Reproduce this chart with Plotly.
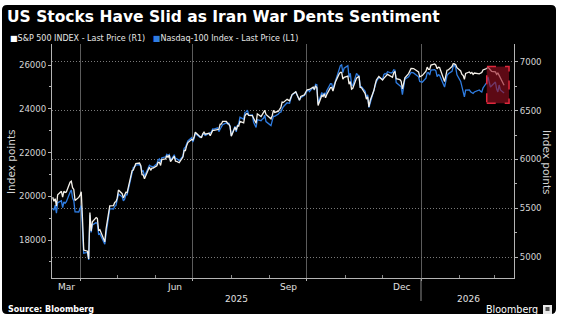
import plotly.graph_objects as go

# ---- data: daily closes, S&P 500 (right axis) and Nasdaq-100 (left axis) ----
dates = [
    # Mar 2025
    "2025-03-10", "2025-03-11", "2025-03-12", "2025-03-13", "2025-03-14", "2025-03-17", "2025-03-18",
    "2025-03-19", "2025-03-20", "2025-03-21", "2025-03-24", "2025-03-25", "2025-03-26", "2025-03-27",
    "2025-03-28", "2025-03-31",
    # Apr 2025
    "2025-04-01", "2025-04-02", "2025-04-03", "2025-04-04", "2025-04-07", "2025-04-08", "2025-04-09",
    "2025-04-10", "2025-04-11", "2025-04-14", "2025-04-15", "2025-04-16", "2025-04-17", "2025-04-21",
    "2025-04-22", "2025-04-23", "2025-04-24", "2025-04-25", "2025-04-28", "2025-04-29", "2025-04-30",
    # May 2025
    "2025-05-01", "2025-05-02", "2025-05-05", "2025-05-06", "2025-05-07", "2025-05-08", "2025-05-09",
    "2025-05-12", "2025-05-13", "2025-05-14", "2025-05-15", "2025-05-16", "2025-05-19", "2025-05-20",
    "2025-05-21", "2025-05-22", "2025-05-23", "2025-05-27", "2025-05-28", "2025-05-29", "2025-05-30",
    # Jun 2025
    "2025-06-02", "2025-06-03", "2025-06-04", "2025-06-05", "2025-06-06", "2025-06-09", "2025-06-10",
    "2025-06-11", "2025-06-12", "2025-06-13", "2025-06-16", "2025-06-17", "2025-06-18", "2025-06-20",
    "2025-06-23", "2025-06-24", "2025-06-25", "2025-06-26", "2025-06-27", "2025-06-30",
    # Jul 2025
    "2025-07-01", "2025-07-02", "2025-07-03", "2025-07-07", "2025-07-08", "2025-07-09", "2025-07-10",
    "2025-07-11", "2025-07-14", "2025-07-15", "2025-07-16", "2025-07-17", "2025-07-18", "2025-07-21",
    "2025-07-22", "2025-07-23", "2025-07-24", "2025-07-25", "2025-07-28", "2025-07-29", "2025-07-30",
    "2025-07-31",
    # Aug 2025
    "2025-08-01", "2025-08-04", "2025-08-05", "2025-08-06", "2025-08-07", "2025-08-08", "2025-08-11",
    "2025-08-12", "2025-08-13", "2025-08-14", "2025-08-15", "2025-08-18", "2025-08-19", "2025-08-20",
    "2025-08-21", "2025-08-22", "2025-08-25", "2025-08-26", "2025-08-27", "2025-08-28", "2025-08-29",
    # Sep 2025
    "2025-09-02", "2025-09-03", "2025-09-04", "2025-09-05", "2025-09-08", "2025-09-09", "2025-09-10",
    "2025-09-11", "2025-09-12", "2025-09-15", "2025-09-16", "2025-09-17", "2025-09-18", "2025-09-19",
    "2025-09-22", "2025-09-23", "2025-09-24", "2025-09-25", "2025-09-26", "2025-09-29", "2025-09-30",
    # Oct 2025
    "2025-10-01", "2025-10-02", "2025-10-03", "2025-10-06", "2025-10-07", "2025-10-08", "2025-10-09",
    "2025-10-10", "2025-10-13", "2025-10-14", "2025-10-15", "2025-10-16", "2025-10-17", "2025-10-20",
    "2025-10-21", "2025-10-22", "2025-10-23", "2025-10-24", "2025-10-27", "2025-10-28", "2025-10-29",
    "2025-10-30", "2025-10-31",
    # Nov 2025
    "2025-11-03", "2025-11-04", "2025-11-05", "2025-11-06", "2025-11-07", "2025-11-10", "2025-11-11",
    "2025-11-12", "2025-11-13", "2025-11-14", "2025-11-17", "2025-11-18", "2025-11-19", "2025-11-20",
    "2025-11-21", "2025-11-24", "2025-11-25", "2025-11-26", "2025-11-28",
    # Dec 2025
    "2025-12-01", "2025-12-02", "2025-12-03", "2025-12-04", "2025-12-05", "2025-12-08", "2025-12-09",
    "2025-12-10", "2025-12-11", "2025-12-12", "2025-12-15", "2025-12-16", "2025-12-17", "2025-12-18",
    "2025-12-19", "2025-12-22", "2025-12-23", "2025-12-24", "2025-12-26", "2025-12-29", "2025-12-30",
    "2025-12-31",
    # Jan 2026
    "2026-01-02", "2026-01-05", "2026-01-06", "2026-01-07", "2026-01-08", "2026-01-09", "2026-01-12",
    "2026-01-13", "2026-01-14", "2026-01-15", "2026-01-16", "2026-01-20", "2026-01-21", "2026-01-22",
    "2026-01-23", "2026-01-26", "2026-01-27", "2026-01-28", "2026-01-29", "2026-01-30",
    # Feb 2026
    "2026-02-02", "2026-02-03", "2026-02-04", "2026-02-05", "2026-02-06", "2026-02-09", "2026-02-10",
    "2026-02-11", "2026-02-12", "2026-02-13", "2026-02-17", "2026-02-18", "2026-02-19", "2026-02-20",
    "2026-02-23", "2026-02-24", "2026-02-25", "2026-02-26", "2026-02-27",
    # Mar 2026
    "2026-03-02", "2026-03-03", "2026-03-04", "2026-03-05", "2026-03-06", "2026-03-09",
]

spx = [
    5614, 5572, 5599, 5522, 5639, 5675, 5615, 5675, 5663, 5668, 5767, 5777, 5712, 5693, 5581, 5612,
    5633, 5671, 5397, 5074, 5062, 4983, 5457, 5268, 5363, 5406, 5397, 5276, 5283, 5158, 5288, 5376,
    5485, 5525, 5529, 5561, 5569,
    5604, 5687, 5650, 5607, 5631, 5664, 5660, 5844, 5886, 5892, 5917, 5958, 5964, 5940, 5845, 5842,
    5802, 5922, 5889, 5912, 5912,
    5936, 5970, 5971, 5939, 6000, 6006, 6039, 6022, 6045, 5977, 6033, 5982, 5981, 5967, 6025, 6092,
    6092, 6141, 6173, 6205,
    6198, 6227, 6279, 6230, 6226, 6263, 6280, 6259, 6269, 6244, 6264, 6297, 6297, 6306, 6309, 6359,
    6363, 6389, 6390, 6371, 6362, 6339,
    6238, 6330, 6299, 6345, 6340, 6389, 6374, 6446, 6466, 6469, 6450, 6449, 6411, 6396, 6370, 6467,
    6439, 6466, 6481, 6502, 6460,
    6416, 6448, 6502, 6482, 6495, 6512, 6532, 6587, 6584, 6615, 6607, 6600, 6632, 6664, 6693, 6657,
    6638, 6605, 6644, 6661, 6688,
    6711, 6715, 6716, 6740, 6715, 6754, 6735, 6553, 6655, 6644, 6671, 6630, 6664, 6735, 6736, 6699,
    6738, 6792, 6875, 6891, 6891, 6822, 6840,
    6852, 6771, 6796, 6720, 6728, 6832, 6846, 6851, 6737, 6734, 6672, 6617, 6642, 6538, 6603, 6705,
    6766, 6813, 6849,
    6812, 6829, 6850, 6857, 6870, 6847, 6840, 6887, 6901, 6827, 6816, 6800, 6721, 6775, 6835, 6878,
    6910, 6932, 6930, 6905, 6896, 6845,
    6858, 6902, 6944, 6921, 6921, 6966, 6977, 6964, 6927, 6944, 6940, 6797, 6876, 6913, 6916, 6950,
    6979, 6978, 6969, 6939,
    6905, 6870, 6860, 6820, 6880, 6895, 6880, 6890, 6870, 6884, 6875, 6884, 6890, 6915, 6930, 6946,
    6925, 6915, 6900,
    6895, 6870, 6884, 6860, 6833, 6760,
]

ndx = [
    19431, 19373, 19597, 19225, 19704, 19791, 19479, 19737, 19678, 19753, 20180, 20287, 19917, 19801,
    19282, 19279,
    19435, 19581, 18521, 17398, 17431, 17090, 19146, 18343, 18690, 18796, 18744, 18258, 18287, 17809,
    18276, 18714, 19212, 19432, 19419, 19547, 19571,
    19784, 20103, 19973, 19792, 19869, 20064, 20062, 20868, 21197, 21320, 21336, 21427, 21447, 21367,
    21136, 21160, 20915, 21413, 21372, 21363, 21340,
    21492, 21652, 21708, 21547, 21761, 21797, 21914, 21864, 21913, 21631, 21896, 21720, 21719, 21626,
    21827, 22191, 22237, 22447, 22534, 22679,
    22480, 22641, 22867, 22686, 22700, 22831, 22829, 22780, 22855, 22884, 22935, 23077, 23065, 23128,
    22955, 23062, 23160, 23272, 23356, 23308, 23337, 23218,
    22763, 23195, 22942, 23239, 23317, 23611, 23524, 23840, 23850, 23932, 23713, 23714, 23385, 23249,
    23142, 23498, 23452, 23525, 23565, 23703, 23415,
    23231, 23415, 23660, 23653, 23762, 23839, 23849, 23993, 24092, 24274, 24276, 24249, 24455, 24627,
    24762, 24580, 24503, 24397, 24504, 24612, 24680,
    24792, 24893, 24785, 24979, 24854, 25118, 25099, 24221, 24750, 24578, 24723, 24644, 24818, 25142,
    25134, 24917, 25098, 25358, 25822, 25970, 26010, 25650, 25858,
    25972, 25435, 25621, 25080, 25060, 25612, 25534, 25518, 24993, 25008, 24797, 24503, 24640, 24054,
    24240, 24880, 25018, 25237, 25434,
    25342, 25556, 25606, 25581, 25692, 25628, 25670, 25776, 25758, 25197, 25070, 25000, 24650, 25020,
    25350, 25460, 25590, 25660, 25640, 25520, 25460, 25250,
    25210, 25400, 25640, 25650, 25540, 25770, 25790, 25730, 25470, 25550, 25530, 24990, 25330, 25520,
    25600, 25710, 25940, 26000, 25880, 25550,
    25250, 25000, 24800, 24540, 24850, 24860, 24780, 24720, 24700, 24766, 24857, 24800, 24766, 24949,
    25200, 25451, 25200, 24994, 25050,
    25223, 24900, 24766, 25086, 24857, 24720,
]

assert len(dates) == len(spx) == len(ndx)

quarter_starts = ["2025-04-01", "2025-07-01", "2025-10-01", "2026-01-01"]
month_starts = ["2025-05-01", "2025-06-01", "2025-08-01", "2025-09-01", "2025-11-01",
                "2025-12-01", "2026-02-01", "2026-03-01"]
month_labels = ["Mar", "Jun", "Sep", "Dec"]
month_label_dates = ["2025-03-21", "2025-06-16", "2025-09-16", "2025-12-16"]
year_labels = ["2025", "2026"]
year_label_dates = ["2025-08-05", "2026-02-08"]

# highlighted window (dates, S&P levels)
box_x = ["2026-02-23", "2026-03-13"]
box_y = [6575, 6950]

# ---- page geometry ----
W, H = 564, 322
ML, MR, MT, MB = 52, 50, 44, 44
PW, PH = W - ML - MR, H - MT - MB


def px(x):
    return (x - ML) / PW


def py(y):
    return (MT + PH - y) / PH


FONT = "DejaVu Sans"
TICK_CLR = "#d4d4d4"
AXIS_CLR = "#b4b4b4"

fig = go.Figure()

fig.add_trace(go.Scatter(
    x=dates, y=ndx, mode="lines", yaxis="y", name="Nasdaq-100 Index - Last Price (L1)",
    line=dict(color="#2f7de2", width=1.3), hoverinfo="skip",
))
fig.add_trace(go.Scatter(
    x=dates, y=spx, mode="lines", yaxis="y2", name="S&P 500 INDEX - Last Price (R1)",
    line=dict(color="#f4f1ea", width=1.3), hoverinfo="skip",
))


def rounded_panel(x0, y0, x1, y1, r):
    pts = [
        f"M {px(x0 + r)},{py(y0)}",
        f"L {px(x1 - r)},{py(y0)}",
        f"Q {px(x1)},{py(y0)} {px(x1)},{py(y0 + r)}",
        f"L {px(x1)},{py(y1 - r)}",
        f"Q {px(x1)},{py(y1)} {px(x1 - r)},{py(y1)}",
        f"L {px(x0 + r)},{py(y1)}",
        f"Q {px(x0)},{py(y1)} {px(x0)},{py(y1 - r)}",
        f"L {px(x0)},{py(y0 + r)}",
        f"Q {px(x0)},{py(y0)} {px(x0 + r)},{py(y0)}",
        "Z",
    ]
    return " ".join(pts)


shapes = [
    # black card behind everything
    dict(type="path", xref="paper", yref="paper", layer="below",
         path=rounded_panel(2, 5, 556, 314, 5),
         fillcolor="#000000", line=dict(width=0)),
    # year divider under the axis
    dict(type="line", xref="x", yref="paper", x0="2026-01-01", x1="2026-01-01",
         y0=0, y1=py(301), line=dict(color="#8a8a8a", width=1)),
    # highlighted recent window
    dict(type="rect", xref="x", yref="y2", layer="above",
         x0=box_x[0], x1=box_x[1], y0=box_y[0], y1=box_y[1],
         fillcolor="rgba(150,14,32,0.62)",
         line=dict(color="#e0283c", width=1.5, dash="dash")),
    # logo mark
    dict(type="rect", xref="paper", yref="paper",
         x0=px(543), x1=px(552), y0=py(314), y1=py(305),
         fillcolor="#e8e8e8", line=dict(width=0)),
    dict(type="rect", xref="paper", yref="paper",
         x0=px(545.5), x1=px(549.5), y0=py(311), y1=py(307),
         fillcolor="#555555", line=dict(width=0)),
]

annotations = [
    dict(text="<b>US Stocks Have Slid as Iran War Dents Sentiment</b>",
         xref="paper", yref="paper", x=px(5), y=py(17), xanchor="left", yanchor="middle",
         showarrow=False, font=dict(family=FONT, size=15.5, color="#ffffff")),
    dict(text="<span style='color:#ffffff'>■</span>S&amp;P 500 INDEX - Last Price (R1)"
              "   <span style='color:#2f7de2'>■</span>Nasdaq-100 Index - Last Price (L1)",
         xref="paper", yref="paper", x=px(8), y=py(38.5), xanchor="left", yanchor="middle",
         showarrow=False, font=dict(family=FONT, size=8, color="#e6e6e6")),
    dict(text="Index points", xref="paper", yref="paper", x=px(11), y=py(162),
         xanchor="center", yanchor="middle", textangle=-90, showarrow=False,
         font=dict(family=FONT, size=10.5, color=TICK_CLR)),
    dict(text="Index points", xref="paper", yref="paper", x=px(547), y=py(162),
         xanchor="center", yanchor="middle", textangle=90, showarrow=False,
         font=dict(family=FONT, size=10.5, color=TICK_CLR)),
    dict(text="<b>Source: Bloomberg</b>", xref="paper", yref="paper", x=px(6), y=py(309),
         xanchor="left", yanchor="middle", showarrow=False,
         font=dict(family=FONT, size=8, color="#ffffff")),
    dict(text="Bloomberg", xref="paper", yref="paper", x=px(540), y=py(309.5),
         xanchor="right", yanchor="middle", showarrow=False,
         font=dict(family=FONT, size=9.6, color="#ffffff")),
]

for lab, d in zip(month_labels, month_label_dates):
    annotations.append(dict(text=lab, xref="x", yref="paper", x=d, y=py(286.5),
                            xanchor="center", yanchor="middle", showarrow=False,
                            font=dict(family=FONT, size=9, color="#e0e0e0")))
for lab, d in zip(year_labels, year_label_dates):
    annotations.append(dict(text=lab, xref="x", yref="paper", x=d, y=py(298.5),
                            xanchor="center", yanchor="middle", showarrow=False,
                            font=dict(family=FONT, size=9, color="#e0e0e0")))

fig.update_layout(
    width=W, height=H, autosize=False,
    margin=dict(l=ML, r=MR, t=MT, b=MB, pad=0),
    paper_bgcolor="#ffffff", plot_bgcolor="rgba(0,0,0,0)",
    showlegend=False,
    shapes=shapes, annotations=annotations,
    xaxis=dict(
        type="date", range=["2025-03-09 10:00", "2026-03-17"],
        tickmode="array", tickvals=quarter_starts, showticklabels=False,
        ticks="outside", ticklen=2, tickcolor=AXIS_CLR,
        showgrid=True, gridcolor="#5c5c5c", gridwidth=1,
        showline=True, linecolor=AXIS_CLR, linewidth=1,
        minor=dict(tickmode="array", tickvals=month_starts, ticks="inside",
                   ticklen=3, tickcolor="#8a8a8a", showgrid=False),
        zeroline=False, fixedrange=True,
    ),
    yaxis=dict(
        range=[16263, 26960], tickmode="linear", tick0=0, dtick=2000,
        tickformat="d",
        ticks="outside", ticklen=3, tickcolor=AXIS_CLR, ticklabelstandoff=0,
        minor=dict(dtick=1000, ticks="outside", ticklen=2, tickcolor=AXIS_CLR),
        showgrid=False, zeroline=False,
        showline=True, linecolor=AXIS_CLR, linewidth=1,
        tickfont=dict(family=FONT, size=8.6, color=TICK_CLR),
        fixedrange=True,
    ),
    yaxis2=dict(
        overlaying="y", side="right", anchor="x",
        range=[4788, 7181], tickmode="linear", tick0=0, dtick=500,
        tickformat="d",
        ticks="outside", ticklen=3, tickcolor=AXIS_CLR, ticklabelstandoff=0,
        minor=dict(dtick=250, ticks="outside", ticklen=2, tickcolor=AXIS_CLR),
        showgrid=True, gridcolor="#7a7a7a", griddash="1px,2px", gridwidth=1,
        zeroline=False, showline=True, linecolor=AXIS_CLR, linewidth=1,
        tickfont=dict(family=FONT, size=8.6, color=TICK_CLR),
        fixedrange=True,
    ),
)

fig.write_html("out.html", config={"displayModeBar": False})
